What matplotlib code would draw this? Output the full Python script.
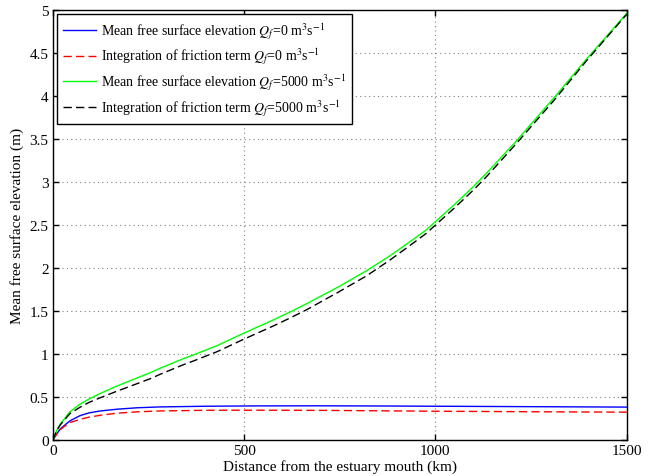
import matplotlib
matplotlib.use('Agg')
import matplotlib.pyplot as plt

plt.rcParams['font.family'] = ['Liberation Serif', 'DejaVu Serif']
plt.rcParams['mathtext.fontset'] = 'stix'
plt.rcParams['font.size'] = 11

# distance from the mouth (km)
KM_Q0 = [0, 10, 19, 30, 45, 71, 95, 124, 167, 220, 280, 400, 540, 700, 850, 1000, 1250, 1500]
ETA_Q0 = [0, 0.07, 0.128, 0.17, 0.225, 0.285, 0.318, 0.34, 0.36, 0.377, 0.387, 0.395, 0.399, 0.40, 0.398, 0.395, 0.39, 0.385]
FRIC_Q0 = [0, 0.07, 0.12, 0.16, 0.205, 0.242, 0.268, 0.29, 0.314, 0.33, 0.34, 0.348, 0.349, 0.347, 0.342, 0.337, 0.331, 0.326]

KM_Q5000 = [0, 10, 20, 45, 70, 95, 125, 165, 210, 255, 280, 340, 370, 430, 490, 540, 580, 620, 665,
            750, 820, 880, 925, 975, 1010, 1050, 1100, 1135, 1210, 1310, 1395, 1500]
ETA_Q5000 = [0, 0.11, 0.19, 0.33, 0.415, 0.48, 0.545, 0.625, 0.705, 0.785, 0.835, 0.945, 0.995, 1.10, 1.225, 1.325, 1.405, 1.49, 1.59,
             1.79, 1.97, 2.14, 2.28, 2.44, 2.58, 2.74, 2.95, 3.11, 3.47, 3.98, 4.43, 4.96]
FRIC_Q5000 = [0, 0.11, 0.18, 0.31, 0.38, 0.44, 0.495, 0.565, 0.64, 0.715, 0.765, 0.875, 0.925, 1.03, 1.155, 1.255, 1.335, 1.42, 1.52,
              1.73, 1.91, 2.09, 2.235, 2.40, 2.54, 2.70, 2.91, 3.07, 3.44, 3.95, 4.41, 4.95]

LABELS = ['Mean free surface elevation $Q_f$=0 m$^3$s$^{-1}$',
          'Integration of friction term $Q_f$=0 m$^3$s$^{-1}$',
          'Mean free surface elevation $Q_f$=5000 m$^3$s$^{-1}$',
          'Integration of friction term $Q_f$=5000 m$^3$s$^{-1}$']

fig = plt.figure(figsize=(6.51, 4.77), dpi=100)
ax = fig.add_axes([0.081, 0.075, 0.8817, 0.902])

ax.plot(KM_Q0, ETA_Q0, color=(0, 0, 1), lw=1.0, label=LABELS[0])
ax.plot(KM_Q0, FRIC_Q0, color=(1, 0, 0), lw=1.0, dashes=(6, 3), label=LABELS[1])
ax.plot(KM_Q5000, ETA_Q5000, color=(0, 1, 0), lw=1.0, label=LABELS[2])
ax.plot(KM_Q5000, FRIC_Q5000, color='k', lw=1.0, dashes=(6, 3), label=LABELS[3])

ax.set_xlim(0, 1500)
ax.set_ylim(0, 5)
ax.set_xticks([0, 500, 1000, 1500])
ax.set_yticks([0, 0.5, 1, 1.5, 2, 2.5, 3, 3.5, 4, 4.5, 5])
ax.set_yticklabels(['0', '0.5', '1', '1.5', '2', '2.5', '3', '3.5', '4', '4.5', '5'])
ax.tick_params(direction='in', top=True, right=True, length=4, width=1, pad=3)
ax.grid(True, color='#808080', linestyle=(0, (1, 3)), linewidth=0.8)
for s in ax.spines.values():
    s.set_linewidth(1.0)

ax.set_xlabel('Distance from the estuary mouth (km)', labelpad=1)
ax.set_ylabel('Mean free surface elevation (m)', labelpad=4)

leg = ax.legend(loc='upper left', borderaxespad=0.3, handlelength=2.4, handletextpad=0.3,
                labelspacing=0.4, fancybox=False, framealpha=1, edgecolor='k', borderpad=0.45,
                fontsize=10)
leg.get_frame().set_linewidth(1.0)

fig.savefig('out.png', dpi=100)
